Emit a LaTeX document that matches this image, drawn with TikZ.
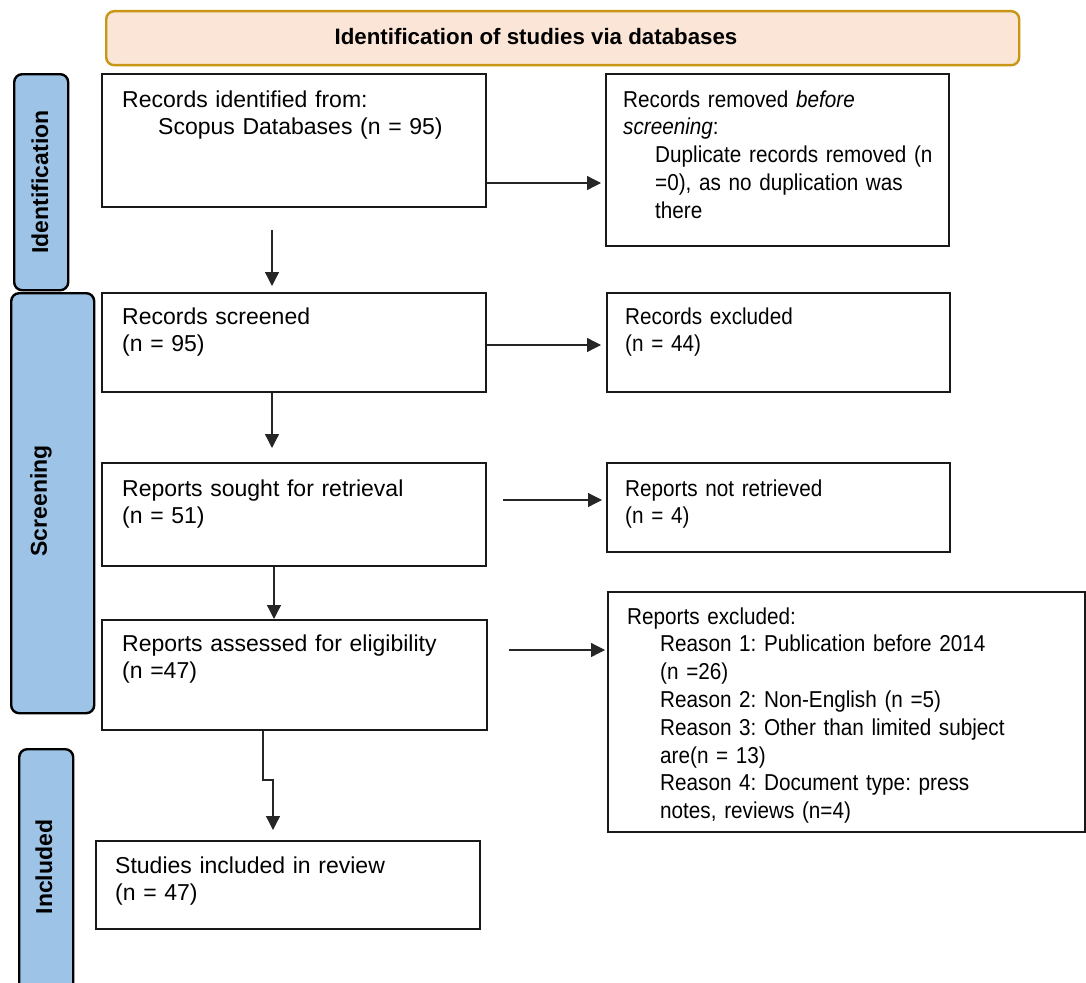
\documentclass[tikz,border=0pt]{standalone}
\usepackage{fontspec}
\setmainfont{Liberation Sans}
\newfontfamily\rfont[FakeStretch=0.9]{Liberation Sans}
\usetikzlibrary{arrows.meta}
\definecolor{hdrfill}{RGB}{251,229,214}
\definecolor{hdrline}{RGB}{200,150,20}
\definecolor{barfill}{RGB}{157,195,230}
\frenchspacing
\begin{document}
\begin{tikzpicture}[x=1pt,y=-1pt,
  font=\fontsize{23}{27.8}\selectfont,
  bx/.style={draw=black!90, line width=2.2pt, anchor=north west, inner sep=0pt, fill=white},
  tx/.style={anchor=base west, inner sep=0pt, align=left, text width=440pt},
  trx/.style={tx, font=\rfont\fontsize{23}{27.8}\selectfont},
  bar/.style={draw=black, line width=2.4pt, fill=barfill, rounded corners=8pt, inner sep=0pt, anchor=north west},
  barlbl/.style={rotate=90, font=\fontsize{23}{27}\selectfont\bfseries, inner sep=0pt},
  hdr/.style={draw=hdrline, line width=2.4pt, fill=hdrfill, rounded corners=8pt, inner sep=0pt, anchor=north west},
  arr/.style={-{Triangle[length=14pt,width=14pt]}, line width=1.3pt, draw=black!85}]
\useasboundingbox (0,0) rectangle (1086,982);
\clip (0,0) rectangle (1086,982);

% header
\node[hdr, minimum width=913pt, minimum height=54pt] (hdr) at (105,10) {};
\node[anchor=base, inner sep=0pt, font=\fontsize{22.3}{26}\selectfont\bfseries] (hdrt) at (536,45) {Identification of studies via databases};

% phase bars
\node[bar, minimum width=54pt, minimum height=216pt] (idbar) at (13,73) {};
\node[barlbl] (idlbl) at (40,182) {Identification};
\node[bar, minimum width=83pt, minimum height=420pt] (scbar) at (10,292) {};
\node[barlbl] (sclbl) at (41,501) {Screening};
\node[bar, minimum width=54pt, minimum height=260pt] (inbar) at (18,748) {};
\node[barlbl] (inlbl) at (44,867) {Included};

% left column
\node[bx, minimum width=384pt, minimum height=133pt] (b1) at (101,73) {};
\node[tx] (t1) at ([shift={(21,34)}]b1.north west) {Records identified from:\\\hspace*{36pt}Scopus Databases (n = 95)};
\node[bx, minimum width=384pt, minimum height=99pt] (b2) at (101,292) {};
\node[tx] (t2) at ([shift={(21,32)}]b2.north west) {Records screened\\(n = 95)};
\node[bx, minimum width=384pt, minimum height=103pt] (b3) at (101,462) {};
\node[tx] (t3) at ([shift={(21,34)}]b3.north west) {Reports sought for retrieval\\(n = 51)};
\node[bx, minimum width=385pt, minimum height=110pt] (b4) at (101,619) {};
\node[tx] (t4) at ([shift={(21,32)}]b4.north west) {Reports assessed for eligibility\\(n =47)};
\node[bx, minimum width=384pt, minimum height=88pt] (b5) at (95,840) {};
\node[tx] (t5) at ([shift={(20,33)}]b5.north west) {Studies included in review\\(n = 47)};

% right column
\node[bx, minimum width=343pt, minimum height=172pt] (r1) at (605,73) {};
\node[trx] (s1) at ([shift={(18,34)}]r1.north west) {Records removed \textit{before}\\\textit{screening}:\\\hspace*{32pt}Duplicate records removed (n\\\hspace*{32pt}=0), as no duplication was\\\hspace*{32pt}there};
\node[bx, minimum width=343pt, minimum height=99pt] (r2) at (606,292) {};
\node[trx] (s2) at ([shift={(19,32)}]r2.north west) {Records excluded\\(n = 44)};
\node[bx, minimum width=343pt, minimum height=89pt] (r3) at (606,462) {};
\node[trx] (s3) at ([shift={(19,34)}]r3.north west) {Reports not retrieved\\(n = 4)};
\node[bx, minimum width=477pt, minimum height=240pt] (r4) at (607,591) {};
\node[trx] (s4) at ([shift={(20,33)}]r4.north west) {Reports excluded:\\\hspace*{33pt}Reason 1: Publication before 2014\\\hspace*{33pt}(n =26)\\\hspace*{33pt}Reason 2: Non-English (n =5)\\\hspace*{33pt}Reason 3: Other than limited subject\\\hspace*{33pt}are(n = 13)\\\hspace*{33pt}Reason 4: Document type: press\\\hspace*{33pt}notes, reviews (n=4)};

% vertical connectors
\draw[arr, shorten <=22pt, shorten >=6pt] (b1.south -| 272,0) -- (b2.north -| 272,0);
\draw[arr, shorten >=14pt] (b2.south -| 272,0) -- (b3.north -| 272,0);
\draw[arr] (b3.south -| 274,0) -- (b4.north -| 274,0);
\draw[arr, shorten >=10pt] (b4.south -| 263,0) -- (263,780) -- (273,780) -- (b5.north -| 273,0);

% horizontal connectors
\draw[arr, shorten >=4pt] (b1.east |- 0,183) -- (r1.west |- 0,183);
\draw[arr, shorten >=5pt] (b2.east |- 0,345) -- (r2.west |- 0,345);
\draw[arr, shorten <=16pt, shorten >=4pt] (b3.east |- 0,500) -- (r3.west |- 0,500);
\draw[arr, shorten <=21pt, shorten >=2pt] (b4.east |- 0,650) -- (r4.west |- 0,650);
\end{tikzpicture}
\end{document}
